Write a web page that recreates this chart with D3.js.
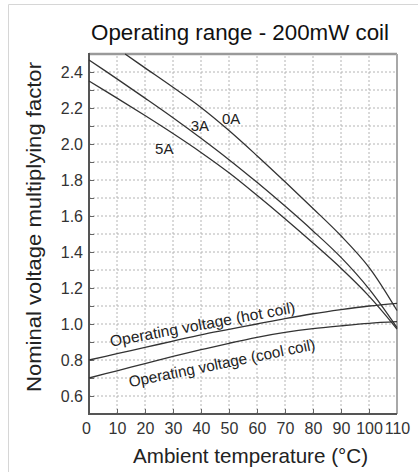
<!DOCTYPE html>
<html><head><meta charset="utf-8">
<script src="https://cdn.jsdelivr.net/npm/d3@7"></script>
<style>html,body{margin:0;padding:0;background:#fff;} svg{display:block;font-family:"Liberation Sans",Arial,sans-serif;}</style>
</head><body><svg id="c" width="418" height="472"></svg>
<script>
// ---- data ----
const xTickValues = [0,10,20,30,40,50,60,70,80,90,100,110];
const xTickLabels = ["0","10","20","30","40","50","60","70","80","90","100","110"];
const yGridValues = [0.6,0.7,0.8,0.9,1.0,1.1,1.2,1.3,1.4,1.5,1.6,1.7,1.8,1.9,2.0,2.1,2.2,2.3,2.4];
const yTickValues = [0.6,0.8,1.0,1.2,1.4,1.6,1.8,2.0,2.2,2.4];
const yTickLabels = ["0.6","0.8","1.0","1.2","1.4","1.6","1.8","2.0","2.2","2.4"];

const temps0A   = [12.9,20,30,40,50,60,70,80,90,100,110];
const factor0A  = [2.5,2.423,2.315,2.203,2.075,1.935,1.79,1.642,1.49,1.315,1.075];
const temps     = [0,10,20,30,40,50,60,70,80,90,100,110];
const factor3A  = [2.467,2.362,2.255,2.146,2.032,1.913,1.787,1.655,1.517,1.37,1.195,0.98];
const factor5A  = [2.35,2.255,2.158,2.058,1.953,1.84,1.715,1.585,1.45,1.31,1.155,0.972];
const factorHot = [0.8,0.835,0.87,0.905,0.94,0.97,1.0,1.03,1.057,1.08,1.1,1.115];
const factorCool= [0.7,0.74,0.78,0.82,0.857,0.893,0.926,0.953,0.974,0.99,1.004,1.013];

const title = "Operating range - 200mW coil";
const xTitle = "Ambient temperature (°C)";
const yTitle = "Nominal voltage multiplying factor";
const curveLabels = ["0A","3A","5A"];
const hotLabel = "Operating voltage (hot coil)";
const coolLabel = "Operating voltage (cool coil)";

// ---- drawing ----
const svg = d3.select("#c");
const x = d3.scaleLinear().domain([0,110]).range([89,397]);
const y = d3.scaleLinear().domain([0.5,2.5]).range([414,54]);

// outer card border
svg.append("path").attr("d","M8.5,472V4.5H418").attr("fill","none").attr("stroke","#d6d6d6").attr("stroke-width",1);

// grid
const g = svg.append("g");
g.selectAll("line.vg").data(xTickValues.filter(d=>d>0 && d<110)).join("line")
  .attr("x1",d=>x(d)).attr("x2",d=>x(d)).attr("y1",y(0.5)).attr("y2",y(2.5))
  .attr("stroke","#b4b4b4").attr("stroke-width",1).attr("stroke-dasharray","2,2");
g.selectAll("line.hg").data(yGridValues).join("line")
  .attr("x1",x(0)).attr("x2",x(110)).attr("y1",d=>y(d)).attr("y2",d=>y(d))
  .attr("stroke","#b4b4b4").attr("stroke-width",1).attr("stroke-dasharray","2,2");

// axes
const xAxis = d3.axisBottom(x).tickValues(xTickValues).tickSize(-5).tickPadding(9)
  .tickFormat((d,i)=>xTickLabels[i]);
const ax = svg.append("g").attr("transform",`translate(0,${y(0.5)})`).call(xAxis);
ax.select(".domain").remove();
ax.selectAll("line").attr("stroke","#666");
ax.selectAll("text").attr("font-size",16).attr("fill","#333").attr("font-family","Liberation Sans, Arial, sans-serif")
  .attr("dx",(d,i)=>i===0?-3:0);

const yAxis = d3.axisLeft(y).tickValues(yGridValues).tickSize(-5).tickPadding(6)
  .tickFormat(d=>{const i=yTickValues.findIndex(v=>Math.abs(v-d)<1e-6);return i>=0?yTickLabels[i]:"";});
const ay = svg.append("g").attr("transform",`translate(${x(0)},0)`).call(yAxis);
ay.select(".domain").remove();
ay.selectAll("line").attr("stroke","#666");
ay.selectAll("text").attr("font-size",16).attr("fill","#333").attr("font-family","Liberation Sans, Arial, sans-serif");

// frame
svg.append("line").attr("x1",x(0)).attr("x2",x(110)).attr("y1",y(2.5)).attr("y2",y(2.5)).attr("stroke","#9a9a9a").attr("stroke-width",2.5);
svg.append("line").attr("x1",x(110)).attr("x2",x(110)).attr("y1",y(2.5)).attr("y2",y(0.5)).attr("stroke","#a8a8a8").attr("stroke-width",2);
svg.append("line").attr("x1",x(0)).attr("x2",x(0)).attr("y1",y(2.5)-1).attr("y2",y(0.5)+1).attr("stroke","#555").attr("stroke-width",2);
svg.append("line").attr("x1",x(0)-1).attr("x2",x(110)).attr("y1",y(0.5)).attr("y2",y(0.5)).attr("stroke","#555").attr("stroke-width",2);

// curves
const line = d3.line().curve(d3.curveCatmullRom.alpha(0.5)).x(d=>x(d[0])).y(d=>y(d[1]));
const series = [
  d3.zip(temps0A,factor0A),
  d3.zip(temps,factor3A),
  d3.zip(temps,factor5A),
  d3.zip(temps,factorHot),
  d3.zip(temps,factorCool)
];
svg.append("g").selectAll("path").data(series).join("path")
  .attr("d",line).attr("fill","none").attr("stroke","#333").attr("stroke-width",1.3);

// curve labels
const labelPos = [[47.5,2.111],[36.3,2.072],[23.6,1.944]];
svg.append("g").selectAll("text").data(curveLabels).join("text")
  .attr("x",(d,i)=>x(labelPos[i][0])).attr("y",(d,i)=>y(labelPos[i][1]))
  .attr("font-size",15).attr("fill","#222").text(d=>d);

svg.append("text").attr("transform",`translate(${x(7.9)},${y(0.874)}) rotate(-10.5)`)
  .attr("font-size",15.5).attr("fill","#222").attr("textLength",188).attr("lengthAdjust","spacingAndGlyphs").text(hotLabel);
svg.append("text").attr("transform",`translate(${x(14.6)},${y(0.648)}) rotate(-11.5)`)
  .attr("font-size",15.5).attr("fill","#222").attr("textLength",190).attr("lengthAdjust","spacingAndGlyphs").text(coolLabel);

// titles
svg.append("text").attr("x",240).attr("y",40).attr("text-anchor","middle")
  .attr("font-size",22).attr("fill","#111").attr("textLength",298).attr("lengthAdjust","spacingAndGlyphs").text(title);
svg.append("text").attr("x",250.5).attr("y",462.5).attr("text-anchor","middle")
  .attr("font-size",21).attr("fill","#222").attr("textLength",235).attr("lengthAdjust","spacingAndGlyphs").text(xTitle);
svg.append("text").attr("transform","translate(41,227) rotate(-90)").attr("text-anchor","middle")
  .attr("font-size",21).attr("fill","#222").attr("textLength",330).attr("lengthAdjust","spacingAndGlyphs").text(yTitle);
</script></body></html>
